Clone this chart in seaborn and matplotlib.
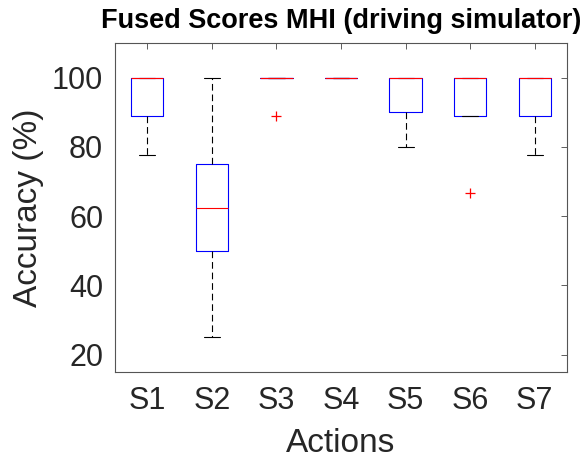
import matplotlib
matplotlib.use("Agg")
import matplotlib.pyplot as plt
import seaborn as sns
import pandas as pd

# Data (per-subject accuracy values, %)
categories = ["S1", "S2", "S3", "S4", "S5", "S6", "S7"]
s1 = [77.8, 88.9, 88.9, 100, 100, 100, 100]
s2 = [25.0, 50.0, 50.0, 62.5, 75.0, 75.0, 100]
s3 = [88.9, 100, 100, 100, 100, 100, 100]
s4 = [100, 100, 100, 100, 100, 100, 100]
s5 = [80.0, 90.0, 90.0, 100, 100, 100, 100]
s6 = [66.7, 88.9, 88.9, 100, 100, 100, 100]
s7 = [77.8, 88.9, 88.9, 100, 100, 100, 100]
series = [s1, s2, s3, s4, s5, s6, s7]

title = "Fused Scores MHI (driving simulator)"
xlabel = "Actions"
ylabel = "Accuracy (%)"
yticks = [20, 40, 60, 80, 100]

rows = []
for cat, vals in zip(categories, series):
    for v in vals:
        rows.append({"Action": cat, "Accuracy": v})
df = pd.DataFrame(rows)

sns.set_style("white")
plt.rcParams["font.family"] = ["Liberation Sans", "DejaVu Sans"]

fig = plt.figure(figsize=(5.85, 4.62), dpi=100)
ax = fig.add_axes([115 / 585, 1 - 372 / 462, (567 - 115) / 585, (372 - 43) / 462])

text_color = "#262626"
lw = 0.8
sns.boxplot(
    data=df, x="Action", y="Accuracy", order=categories, ax=ax,
    fill=False, width=0.5, whis=1.5, linewidth=lw,
    boxprops=dict(color="#0000ff", linewidth=lw),
    medianprops=dict(color="#ff0000", linewidth=lw),
    whiskerprops=dict(color="black", linewidth=lw, linestyle=(0, (6, 3.5))),
    capprops=dict(color="black", linewidth=lw),
    flierprops=dict(marker="+", markeredgecolor="#ff0000", markerfacecolor="none",
                    markersize=7, markeredgewidth=0.9),
)

ax.set_xlim(-0.5, len(categories) - 0.5)
ax.set_ylim(15, 110)
ax.set_yticks(yticks)
ax.set_yticklabels([str(t) for t in yticks])

ax.set_title(title, fontsize=19.5, fontweight="bold", color="black", pad=11)
ax.set_xlabel(xlabel, fontsize=24, color=text_color, labelpad=9)
ax.set_ylabel(ylabel, fontsize=24, color=text_color, labelpad=6)

ax.tick_params(axis="both", direction="in", top=True, right=True, length=4,
               width=0.6, color="#444444", labelsize=22, labelcolor=text_color)
ax.tick_params(axis="x", pad=10)
ax.tick_params(axis="y", pad=8.5)
for sp in ax.spines.values():
    sp.set_visible(True)
    sp.set_color("#555555")
    sp.set_linewidth(0.8)

fig.savefig("out.png", dpi=100)
